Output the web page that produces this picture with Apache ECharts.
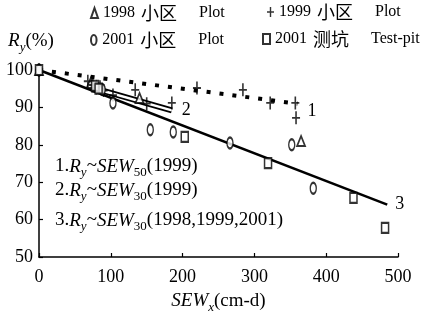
<!DOCTYPE html>
<html>
<head>
<meta charset="utf-8">
<script src="https://cdn.jsdelivr.net/npm/echarts@6/dist/echarts.min.js"></script>
<style>html,body{margin:0;padding:0;background:#fff;}#c{width:439px;height:320px;}</style>
</head>
<body>
<div id="c"></div>
<script>
// ---- data ----
var xTicks = [0, 100, 200, 300, 400, 500];
var yTicks = [50, 60, 70, 80, 90, 100];
var seriesNames = ['1998 小区  Plot', '1999 小区  Plot', '2001 小区  Plot', '2001 测坑  Test-pit'];
var plot1998 = [[0,100],[72,96.5],[80,95.5],[140,92.5],[365,81]];
var plot1999 = [[0,100],[68,97],[75,96],[80,95.2],[85,95.5],[90,94.5],[103,93.3],[134,94.7],[150,91],[185,91.2],[220,95.2],[284,94.7],[322,91.2],[357,91.2],[358,87.2]];
var plot2001 = [[0,100],[88,94.8],[103,91.2],[155,84],[187,83.4],[266,80.5],[352,80],[382,68.4]];
var pit2001 = [[0,100],[78,95.8],[83,95],[203,82.1],[319,75.1],[438,65.8],[482,57.8]];
var fit1 = [[0,100],[360,91]];        // Ry~SEW50 (1999)
var fit2 = [[75,95.2],[185,89.2]];    // Ry~SEW30 (1999)
var fit3 = [[0,100],[485,64]];        // Ry~SEW30 (1998,1999,2001)
var fitLabels = ['1', '2', '3'];

var FONT = '"Liberation Serif", "Times New Roman", "Noto Sans CJK SC", serif';
var chart = echarts.init(document.getElementById('c'), null, {renderer: 'canvas'});

function richSet(fs, sfs, lh) {
  return {
    m: {fontFamily: FONT, fontSize: fs, color: '#000', lineHeight: lh},
    i: {fontFamily: FONT, fontSize: fs, color: '#000', lineHeight: lh, fontStyle: 'italic'},
    s: {fontFamily: FONT, fontSize: sfs, color: '#000', lineHeight: sfs, fontStyle: 'italic', verticalAlign: 'bottom'},
    n: {fontFamily: FONT, fontSize: sfs, color: '#000', lineHeight: sfs, verticalAlign: 'bottom'}
  };
}
var richBig = richSet(19, 13, 26);

var plusPath = 'path://M4,0H6V14H4Z M0,6H10V8H0Z';
var ellPath = 'path://M5,0A5,9 0 1,1 5,18A5,9 0 1,1 5,0Z';

function scatter(name, data, symbol, size) {
  var hollow = symbol !== plusPath;
  return {
    type: 'scatter', name: name, data: data, symbol: symbol, symbolSize: size,
    itemStyle: hollow ? {color: '#fff', borderColor: '#000', borderWidth: 1.8} : {color: '#000'},
    z: 5
  };
}

var legendRich = {
  y: {fontFamily: FONT, fontSize: 16, color: '#000', width: 38},
  c: {fontFamily: '"Noto Sans CJK SC", serif', fontSize: 18, color: '#000', width: 58},
  p: {fontFamily: FONT, fontSize: 16, color: '#000'}
};
function legendAt(name, left, top) {
  return {
    data: [name], left: left, top: top, itemWidth: 7, itemHeight: 10, itemGap: 0,
    padding: 0,
    formatter: function (n) {
      var p = n.split(/\s+/);
      return '{y|' + p[0] + '}{c|' + p[1] + '}{p|' + p[2] + '}';
    },
    textStyle: {rich: legendRich, padding: [0, 0, 0, 0]}
  };
}

chart.setOption({
  animation: false,
  backgroundColor: '#fff',
  grid: {left: 39, right: 41, top: 70, bottom: 63, outerBoundsMode: 'none', containLabel: false},
  legend: [
    legendAt(seriesNames[0], 90, 4),
    legendAt(seriesNames[1], 267, 3),
    legendAt(seriesNames[2], 90, 31),
    legendAt(seriesNames[3], 262, 30)
  ],
  xAxis: {
    type: 'value', min: xTicks[0], max: xTicks[xTicks.length-1], interval: 100,
    axisLine: {lineStyle: {color: '#000', width: 1.5}},
    axisTick: {inside: true, length: 4, lineStyle: {color: '#000', width: 1.2}},
    splitLine: {show: false},
    axisLabel: {fontFamily: FONT, fontSize: 18, color: '#000', margin: 11},
    name: '{i|SEW}{s|x}{m|(cm-d)}', nameLocation: 'middle', nameGap: 31,
    nameTextStyle: {rich: richBig}
  },
  yAxis: {
    type: 'value', min: yTicks[0], max: yTicks[yTicks.length-1], interval: 10,
    axisLine: {lineStyle: {color: '#000', width: 1.5}},
    axisTick: {inside: true, length: 4, lineStyle: {color: '#000', width: 1.2}},
    splitLine: {show: false},
    axisLabel: {fontFamily: FONT, fontSize: 18, color: '#000', margin: 6},
    name: '{i|R}{s|y}{m|(%)}', nameLocation: 'end', nameGap: 16,
    nameTextStyle: {rich: richBig, align: 'center', padding: [0, 16, 0, 0]}
  },
  graphic: [
    {type: 'text', left: 55, top: 157, style: {rich: richBig, text: '{m|1.}{i|R}{s|y}{m|~}{i|SEW}{n|50}{m|(1999)}'}},
    {type: 'text', left: 55, top: 181, style: {rich: richBig, text: '{m|2.}{i|R}{s|y}{m|~}{i|SEW}{n|30}{m|(1999)}'}},
    {type: 'text', left: 55, top: 211, style: {rich: richBig, text: '{m|3.}{i|R}{s|y}{m|~}{i|SEW}{n|30}{m|(1998,1999,2001)}'}}
  ],
  series: [
    {type: 'line', data: fit1, symbol: 'none', silent: true, z: 3,
     lineStyle: {color: '#000', width: 4, type: [4, 9], cap: 'butt'},
     endLabel: {show: true, formatter: fitLabels[0], fontFamily: FONT, fontSize: 18, color: '#000', offset: [2, 8]}},
    {type: 'line', data: fit2, symbol: 'none', silent: true, z: 3,
     lineStyle: {color: '#000', width: 6},
     endLabel: {show: true, formatter: fitLabels[1], fontFamily: FONT, fontSize: 18, color: '#000', offset: [2, 0]}},
    {type: 'line', data: fit2, symbol: 'none', silent: true, z: 4,
     lineStyle: {color: '#fff', width: 2.5}},
    {type: 'line', data: fit3, symbol: 'none', silent: true, z: 3,
     lineStyle: {color: '#000', width: 2.5},
     endLabel: {show: true, formatter: fitLabels[2], fontFamily: FONT, fontSize: 18, color: '#000', offset: [0, 0]}},
    scatter(seriesNames[0], plot1998, 'triangle', [8, 10]),
    scatter(seriesNames[1], plot1999, plusPath, [8, 13]),
    scatter(seriesNames[2], plot2001, ellPath, [6, 11]),
    scatter(seriesNames[3], pit2001, 'rect', [7, 10])
  ]
});
</script>
</body>
</html>
